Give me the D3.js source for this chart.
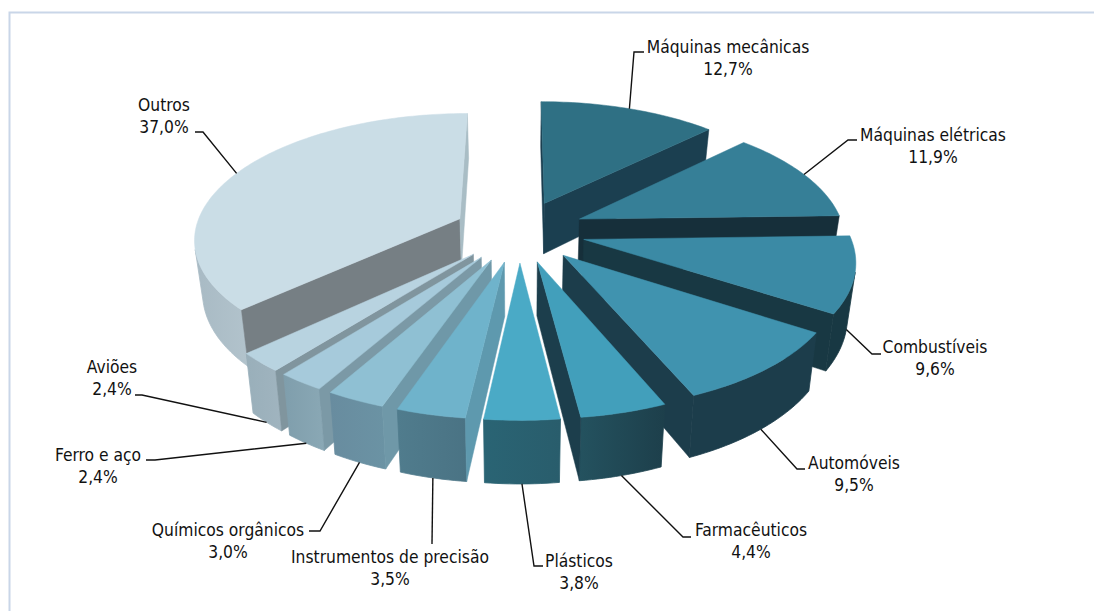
<!DOCTYPE html>
<html><head><meta charset="utf-8">
<script src="https://cdn.jsdelivr.net/npm/d3@7"></script>
<style>html,body{margin:0;padding:0;background:#fff}svg{display:block}
text{font-family:"DejaVu Sans";font-stretch:condensed;font-size:17.3px;fill:#111}</style>
</head><body><svg id="c" width="1095" height="611"></svg>
<script>
const categories=["Máquinas mecânicas","Máquinas elétricas","Combustíveis","Automóveis","Farmacêuticos","Plásticos","Instrumentos de precisão","Químicos orgânicos","Ferro e aço","Aviões","Outros"];
const values=[12.7,11.9,9.6,9.5,4.4,3.8,3.5,3.0,2.4,2.4,37.0];
const valueLabels=["12,7%","11,9%","9,6%","9,5%","4,4%","3,8%","3,5%","3,0%","2,4%","2,4%","37,0%"];
const topColors=["#2f7084","#367f97","#3b8aa5","#4093af","#429fbb","#4aaac6","#6fb3cb","#8fc0d3","#a6cadb","#b8d3e0","#cadde6"];
const startFace=["#1b3f50","#162f3a","#183843","#1c3d4b","#1c3e4c","#2a6272","#5e99ae","#6f98a8","#7b99a6","#80959e","#767f84"];
const endFace=["#1b3f50","#162f3a","#183843","#1c3d4b","#1c3e4c","#2a6272","#5e99ae","#6f98a8","#7b99a6","#80959e","#a9bdc5"];
const wallA=["#1b3f50","#162f3a","#183843","#1c3d4b","#24525f","#2a6474","#507c8d","#688c9f","#7f9eac","#99afba","#a8bac4"];
const wallB=["#1b3f50","#162f3a","#183843","#1c3d4b","#1d3f4b","#295d6c","#4a7384","#6b93a4","#8aa8b5","#a0b4bf","#b2c3cc"];
// label layout: centre x, first-line y, elbow, elbow end
const labelX=[728,933,935,854,751,579,390,228,98,112,164];
const labelY=[53,141,353,469,536,567,563,536,461,373,111];
const elbowA=[[634,52],[848,140],[872,354],[797,469],[683,537],[534,566],[432,544],[320,531],[155,460],[142,395],[203,132]];
const elbowB=[[644,52],[857,140],[881,354],[805,469],[691,537],[543,566],[432,544],[309,531],[146,460],[135,395],[195,132]];

const cx=519.5,cy=231,R=265,explode=66,depth=52,k=0.00055,b=0.468,inward=0.975;
const svg=d3.select("#c");
const defs=svg.append("defs");
svg.append("path").attr("d","M9.5,611V12.5H1094").attr("fill","none").attr("stroke","#c9d6e8").attr("stroke-width",2);

const pie=d3.pie().sort(null).value(d=>d).startAngle(0).endAngle(2*Math.PI);
const arcs=pie(values);
const line=d3.line();
function proj(X,Y,low){const s=1/(1-k*Y);
  return low?[cx+X*s*inward,cy+b*Y*s+depth*s]:[cx+X*s,cy+b*Y*s];}
function ground(a,rad){const m=(a.startAngle+a.endAngle)/2;
  return t=>[explode*Math.sin(m)+rad*Math.sin(t),-explode*Math.cos(m)-rad*Math.cos(t)];}
const order=[0,1,2,3,4,10,9,8,7,6,5];
const g=svg.append("g");
function poly(par,pts,col){par.append("path").attr("d",line(pts)+"Z").attr("fill",col).attr("stroke",col).attr("stroke-width",0.5);}
order.forEach(i=>{
  const a=arcs[i],sg=g.append("g");
  const at=ground(a,R),ap=ground(a,0)(0);
  const n=Math.max(6,Math.round((a.endAngle-a.startAngle)/0.02));
  const ts=d3.range(n+1).map(d3.scaleLinear().domain([0,n]).range([a.startAngle,a.endAngle]));
  const pT=ts.map(t=>proj(...at(t),false)),pB=ts.map(t=>proj(...at(t),true));
  const apT=proj(...ap,false),apB=proj(...ap,true);
  // d3.polygonArea is positive for panels turned to the viewer; only those are drawn
  const vis=d3.range(n).filter(j=>d3.polygonArea([pT[j],pT[j+1],pB[j+1],pB[j]])>0);
  if(vis.length){
    const j0=d3.min(vis),j1=d3.max(vis)+1;
    const pts=[...pT.slice(j0,j1+1),...pB.slice(j0,j1+1).reverse()];
    const [x0,x1]=d3.extent(pts,p=>p[0]);
    const gr=defs.append("linearGradient").attr("id","w"+i).attr("gradientUnits","userSpaceOnUse")
      .attr("x1",x0).attr("x2",x1).attr("y1",0).attr("y2",0);
    gr.append("stop").attr("offset",0).attr("stop-color",wallA[i]);
    gr.append("stop").attr("offset",1).attr("stop-color",wallB[i]);
    sg.append("path").attr("d",line(pts)+"Z").attr("fill","url(#w"+i+")").attr("stroke","url(#w"+i+")").attr("stroke-width",0.8);
  }
  [[[apT,pT[0],pB[0],apB],startFace[i]],[[apT,apB,pB[n],pT[n]],endFace[i]]].forEach(([pts,c])=>{
    if(d3.polygonArea(pts)>=0)poly(sg,pts,c);
  });
  poly(sg,[apT,...pT],topColors[i]);
});
// leaders + labels
const lab=svg.append("g");
arcs.forEach((a,i)=>{
  const m=(a.startAngle+a.endAngle)/2;
  const p=proj(...ground(a,R)(m),Math.cos(m)<0);
  lab.append("path").attr("d",line([p,elbowA[i],elbowB[i]])).attr("fill","none").attr("stroke","#111").attr("stroke-width",1.4);
  lab.append("text").attr("x",labelX[i]).attr("y",labelY[i]).attr("text-anchor","middle").text(categories[i]);
  lab.append("text").attr("x",labelX[i]).attr("y",labelY[i]+22).attr("text-anchor","middle").text(valueLabels[i]);
});
</script></body></html>
